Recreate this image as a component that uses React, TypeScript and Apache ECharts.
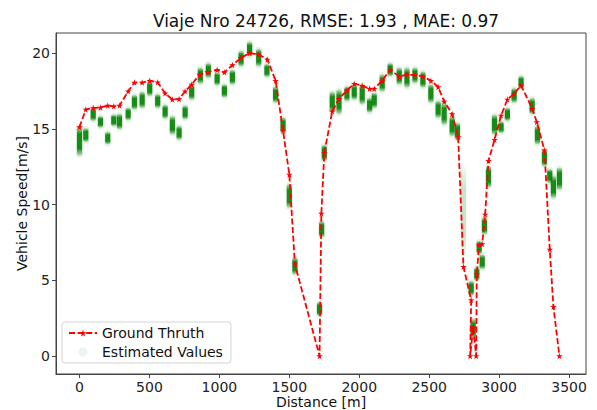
import React, { useEffect, useRef } from "react";
import * as echarts from "echarts";

const TITLE = "Viaje Nro 24726, RMSE: 1.93 , MAE: 0.97";
const X_TICKS = [0, 500, 1000, 1500, 2000, 2500, 3000, 3500];
const Y_TICKS = [0, 5, 10, 15, 20];

// Ground truth: [distance m, speed m/s]
const GT_DIST = [
  0, 45, 98, 150, 202, 245, 286, 348, 393, 448, 502, 559, 612, 664, 712, 755, 802, 859, 916, 984,
  1036, 1093, 1155, 1216, 1281, 1343, 1402, 1455, 1500, 1540, 1716, 1729, 1750, 1807, 1855, 1912,
  1964, 2021, 2074, 2107, 2164, 2221, 2286, 2341, 2398, 2455, 2512, 2564, 2607, 2664, 2707, 2745,
  2800, 2793, 2814, 2836, 2840, 2857, 2879, 2900, 2924, 2967, 3014, 3059, 3107, 3157, 3236, 3269,
  3324, 3362, 3388, 3431,
];
const GT_SPEED = [
  15.13, 16.3, 16.39, 16.43, 16.55, 16.5, 16.55, 17.5, 18.07, 18.07, 18.2, 18.1, 17.36, 16.96, 16.98,
  17.5, 17.95, 18.6, 18.77, 18.92, 18.75, 19.23, 19.71, 20.02, 19.93, 19.6, 18.2, 14.9, 12.0, 6.07,
  0, 9.42, 13.42, 16.17, 17.0, 17.56, 18.0, 17.87, 17.67, 17.67, 18.2, 18.92, 18.48, 18.6, 18.57,
  18.48, 18.2, 17.78, 16.83, 16.0, 14.48, 5.9, 3.7, 0, 1.9, 0, 5.4, 7.35, 7.4, 9.35, 12.9, 14.3,
  15.9, 16.96, 17.34, 17.89, 16.35, 15.47, 13.6, 7.04, 3.26, 0,
];

// Estimated values clusters: distance, lowest speed, highest speed, density
const EST_DIST = [
  0, 45, 98, 150, 202, 245, 286, 348, 393, 448, 502, 559, 612, 664, 712, 755, 802, 864, 921, 984,
  1036, 1093, 1155, 1216, 1281, 1340, 1402, 1455, 1500, 1540, 1716, 1731, 1750, 1807, 1855, 1912,
  1964, 2021, 2074, 2107, 2164, 2221, 2286, 2341, 2398, 2455, 2512, 2564, 2607, 2664, 2702, 2745,
  2800, 2814, 2840, 2857, 2879, 2895, 2924, 2967, 3014, 3059, 3107, 3157, 3236, 3274, 3324, 3362,
  3388, 3431,
];
const EST_LOW = [
  13.4, 14.3, 15.7, 15.25, 14.15, 15.35, 15.15, 15.75, 16.45, 16.55, 17.35, 16.55, 15.85, 14.8, 14.45,
  15.8, 17.1, 18.15, 18.55, 18.05, 17.25, 18.1, 19.3, 19.95, 19.3, 18.6, 16.9, 14.9, 9.95, 5.55, 2.8,
  8.0, 13.05, 16.3, 16.15, 17.0, 17.1, 16.8, 16.25, 16.55, 17.65, 18.65, 18.1, 17.9, 18.2, 17.9, 16.9,
  15.9, 15.45, 14.7, 14.45, 6.8, 4.15, 1.3, 5.15, 6.9, 5.9, 8.2, 11.3, 14.8, 14.9, 15.7, 16.9, 17.8,
  16.15, 14.15, 12.7, 11.6, 10.6, 11.15,
];
const EST_HIGH = [
  15.0, 14.9, 16.25, 15.7, 14.65, 15.8, 15.85, 16.25, 17.1, 17.3, 18.0, 17.15, 16.45, 15.7, 15.05,
  16.4, 17.8, 18.9, 19.2, 18.6, 17.8, 18.75, 20.0, 20.6, 20.15, 19.15, 17.65, 15.6, 11.2, 6.35, 3.4,
  8.75, 13.8, 17.3, 17.45, 17.65, 17.8, 17.8, 16.9, 17.25, 18.45, 19.2, 18.9, 18.9, 18.9, 18.65, 17.8,
  16.7, 16.55, 15.7, 15.25, 12.3, 4.8, 2.3, 5.7, 7.45, 6.55, 9.0, 12.4, 15.8, 15.35, 16.25, 17.55,
  18.35, 16.9, 15.05, 13.5, 12.2, 11.75, 12.3,
];
const EST_DENSITY = EST_DIST.map((d) => (d === 2745 ? 0.22 : 1));

const STAR =
  "path://M50,0 L61,35 L98,35 L68,57 L79,91 L50,70 L21,91 L32,57 L2,35 L39,35 Z";

export default function App() {
  const ref = useRef<HTMLDivElement>(null);
  useEffect(() => {
    if (!ref.current) return;
    const chart = echarts.init(ref.current, null, { renderer: "svg" });
    const gt = GT_DIST.map((d, i) => [d, GT_SPEED[i]]);
    const est = EST_DIST.map((d, i) => [d, EST_LOW[i], EST_HIGH[i], EST_DENSITY[i]]);
    const font = "DejaVu Sans";
    chart.setOption({
      animation: false,
      backgroundColor: "#ffffff",
      textStyle: { fontFamily: font },
      title: {
        text: TITLE,
        left: 321,
        textAlign: "center",
        top: 7,
        textStyle: { fontFamily: font, fontSize: 17, fontWeight: "normal", color: "#111" },
      },
      grid: {
        left: 56,
        right: 11,
        top: 33,
        bottom: 36,
        containLabel: false,
        outerBoundsMode: "none",
        show: true,
        borderColor: "#444",
        borderWidth: 1,
        backgroundColor: "transparent",
      },
      legend: {
        orient: "vertical",
        left: 62,
        top: 322,
        backgroundColor: "rgba(255,255,255,0.85)",
        borderColor: "#d4d4d4",
        borderWidth: 1,
        borderRadius: 3,
        padding: [4, 8, 4, 6],
        itemGap: 5,
        itemWidth: 28,
        itemHeight: 9,
        textStyle: { fontFamily: font, fontSize: 14, color: "#111" },
        data: [
          { name: "Ground Thruth" },
          { name: "Estimated Values", icon: "circle", itemStyle: { color: "rgba(0,128,0,0.08)" } },
        ],
      },
      xAxis: {
        type: "value",
        min: -168,
        max: 3621,
        name: "Distance [m]",
        nameLocation: "middle",
        nameGap: 21,
        nameMoveOverlap: false,
        nameTextStyle: { fontFamily: font, fontSize: 14, color: "#111" },
        splitLine: { show: false },
        axisLine: { show: true, onZero: false, lineStyle: { color: "#444" } },
        axisTick: { show: true, length: 4, customValues: X_TICKS, lineStyle: { color: "#444" } },
        axisLabel: {
          customValues: X_TICKS,
          formatter: (v: number) => String(v),
          fontFamily: font,
          fontSize: 14,
          color: "#222",
          margin: 6,
        },
      },
      yAxis: {
        type: "value",
        min: -1.19,
        max: 21.35,
        name: "Vehicle Speed[m/s]",
        nameLocation: "middle",
        nameRotate: 90,
        nameGap: 27,
        nameMoveOverlap: false,
        nameTextStyle: { fontFamily: font, fontSize: 14, color: "#111" },
        splitLine: { show: false },
        axisLine: { show: true, onZero: false, lineStyle: { color: "#444" } },
        axisTick: { show: true, length: 4, customValues: Y_TICKS, lineStyle: { color: "#444" } },
        axisLabel: {
          customValues: Y_TICKS,
          formatter: (v: number) => String(v),
          fontFamily: font,
          fontSize: 14,
          color: "#222",
          margin: 6,
        },
      },
      series: [
        {
          name: "Estimated Values",
          type: "custom",
          data: est,
          z: 2,
          renderItem: (params: any, api: any) => {
            const d = api.value(0);
            const lo = api.value(1);
            const hi = api.value(2);
            const a = api.value(3);
            const pt = api.coord([d, hi]);
            const pb = api.coord([d, lo]);
            const top = pt[1] - 2.5;
            const bot = pb[1] + 2.5;
            const g = (o: number) => `rgba(0,128,0,${(o * a).toFixed(3)})`;
            return {
              type: "group",
              children: [
                {
                  type: "rect",
                  shape: { x: pt[0] - 3.5, y: top - 2, width: 7, height: bot - top + 4, r: 3.5 },
                  style: { fill: g(0.1) },
                },
                {
                  type: "rect",
                  shape: { x: pt[0] - 2.6, y: top, width: 5.2, height: bot - top, r: 2.6 },
                  style: {
                    fill: new echarts.graphic.LinearGradient(0, 0, 0, 1, [
                      { offset: 0, color: g(0.15) },
                      { offset: 0.25, color: g(0.9) },
                      { offset: 0.75, color: g(0.9) },
                      { offset: 1, color: g(0.15) },
                    ]),
                  },
                },
              ],
            };
          },
        },
        {
          name: "Ground Thruth",
          type: "line",
          data: gt,
          z: 3,
          symbol: STAR,
          symbolSize: 6.5,
          showSymbol: true,
          itemStyle: { color: "#ff0000" },
          lineStyle: { color: "#ff0000", width: 1.8, type: [6, 2.6] },
        },
      ],
    });
    return () => chart.dispose();
  }, []);
  return <div ref={ref} style={{ width: 597, height: 410, position: "fixed", left: 0, top: 0 }} />;
}
